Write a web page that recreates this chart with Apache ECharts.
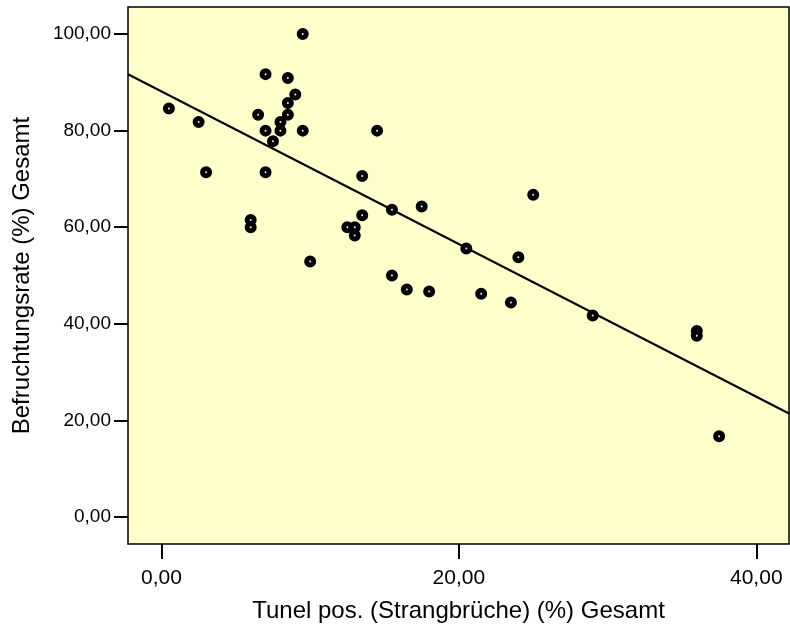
<!DOCTYPE html>
<html>
<head>
<meta charset="utf-8">
<script src="https://cdn.jsdelivr.net/npm/echarts@6/dist/echarts.min.js"></script>
<style>
  html, body { margin: 0; padding: 0; background: #fff; }
  #chart { width: 790px; height: 634px; }
</style>
</head>
<body>
<div id="chart"></div>
<script>
// Streudiagramm: Tunel pos. vs. Befruchtungsrate, mit Regressionsgerade

// Werte
var tunelPos = [0.5, 2.5, 3, 6, 6, 6.5, 7, 7, 7, 7.5, 8, 8, 8.5, 8.5, 8.5, 9, 9.5, 9.5, 10,
                12.5, 13, 13, 13.5, 13.5, 14.5, 15.5, 15.5, 16.5, 17.5, 18, 20.5, 21.5,
                23.5, 24, 25, 29, 36, 36, 37.5];
var befruchtung = [84.6, 81.8, 71.4, 61.5, 60, 83.3, 91.7, 80, 71.4, 77.8, 81.8, 80, 90.9, 85.7, 83.3,
                   87.5, 100, 80, 52.9, 60, 60, 58.3, 70.6, 62.5, 80, 63.6, 50, 47.1, 64.3, 46.7,
                   55.6, 46.2, 44.4, 53.8, 66.7, 41.7, 38.5, 37.5, 16.7];

// Achsen
var xTicks = [0, 20, 40];
var yTicks = [0, 20, 40, 60, 80, 100];
var xRange = [-2.25, 42.2];
var yRange = [-5.6, 105.6];

var xTitle = 'Tunel pos. (Strangbrüche) (%) Gesamt';
var yTitle = 'Befruchtungsrate (%) Gesamt';

// Punkte zusammenbauen
var points = [];
for (var i = 0; i < tunelPos.length; i++) {
    points.push([tunelPos[i], befruchtung[i]]);
}

// lineare Regression (kleinste Quadrate)
var n = points.length, mx = 0, my = 0;
points.forEach(function (p) { mx += p[0]; my += p[1]; });
mx /= n; my /= n;
var sxy = 0, sxx = 0;
points.forEach(function (p) {
    sxy += (p[0] - mx) * (p[1] - my);
    sxx += (p[0] - mx) * (p[0] - mx);
});
var slope = sxy / sxx;
var icpt = my - slope * mx;
var fitLine = [
    [xRange[0], icpt + slope * xRange[0]],
    [xRange[1], icpt + slope * xRange[1]]
];

function fmt(v) {
    return v.toFixed(2).replace('.', ',');
}

var font = 'Liberation Sans, Arial, sans-serif';

var chart = echarts.init(document.getElementById('chart'));

chart.setOption({
    animation: false,
    backgroundColor: '#fff',
    grid: {
        left: 128, right: 1, top: 7, bottom: 90,
        show: true,
        backgroundColor: '#FFFFCC',
        borderColor: '#000',
        borderWidth: 1.5
    },
    xAxis: {
        type: 'value',
        min: xRange[0],
        max: xRange[1],
        name: xTitle,
        nameLocation: 'middle',
        nameGap: 55,
        nameTextStyle: { fontFamily: font, fontSize: 24, color: '#000' },
        axisLine: { show: false, onZero: false },
        axisTick: { show: true, customValues: xTicks, length: 15, lineStyle: { color: '#000', width: 2 } },
        axisLabel: { customValues: xTicks, formatter: fmt, margin: 24, fontFamily: font, fontSize: 21, color: '#000' },
        splitLine: { show: false }
    },
    yAxis: {
        type: 'value',
        min: yRange[0],
        max: yRange[1],
        name: yTitle,
        nameLocation: 'middle',
        nameGap: 94,
        nameTextStyle: { fontFamily: font, fontSize: 24, color: '#000' },
        axisLine: { show: false, onZero: false },
        axisTick: { show: true, customValues: yTicks, length: 14, lineStyle: { color: '#000', width: 2 } },
        axisLabel: { customValues: yTicks, formatter: fmt, margin: 17, fontFamily: font, fontSize: 19, color: '#000' },
        splitLine: { show: false }
    },
    series: [
        {
            type: 'line',
            data: fitLine,
            symbol: 'none',
            silent: true,
            lineStyle: { color: '#000', width: 2 },
            z: 2
        },
        {
            type: 'scatter',
            data: points,
            symbol: 'circle',
            symbolSize: 7,
            itemStyle: { color: '#f2f2e0', borderColor: '#000', borderWidth: 5, opacity: 1 },
            z: 3
        }
    ]
});
</script>
</body>
</html>
